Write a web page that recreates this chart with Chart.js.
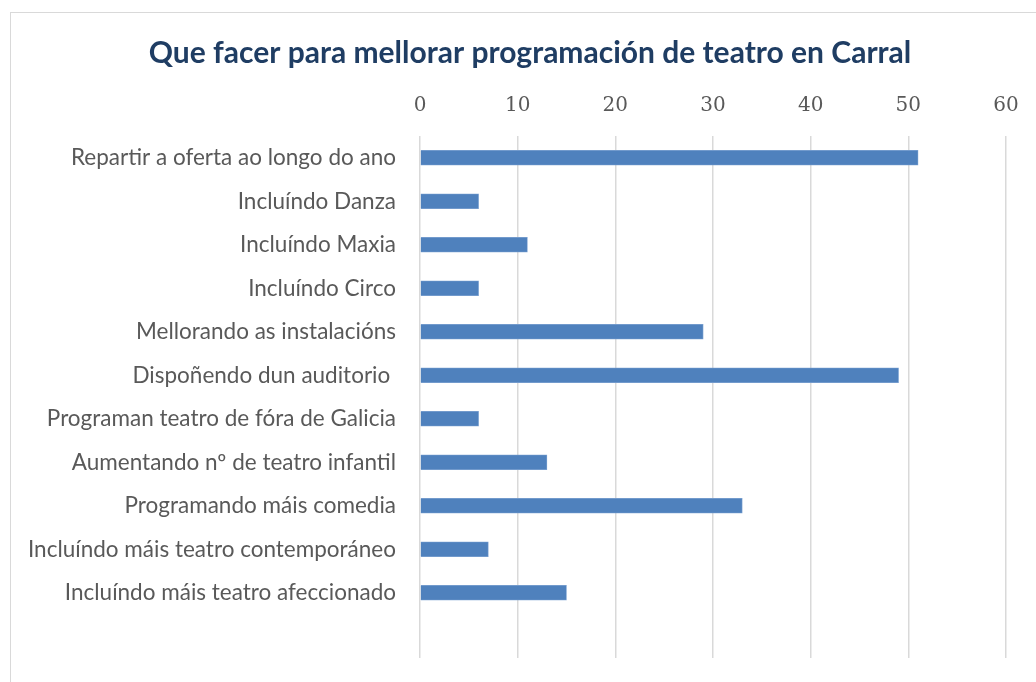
<!DOCTYPE html>
<html>
<head>
<meta charset="utf-8">
<script src="https://cdn.jsdelivr.net/npm/chart.js@4"></script>
<style>
  html, body { margin: 0; padding: 0; background: #fff; overflow: hidden; }
  #wrap { position: absolute; left: 0; top: 0; width: 1036px; height: 682px; }
  #frame { position: absolute; left: 10px; top: 12px; width: 1040px; height: 700px; border: 1px solid #d9d9d9; box-sizing: border-box; }
  canvas { position: absolute; left: 0; top: 0; }
</style>
</head>
<body>
<div id="wrap">
  <div id="frame"></div>
  <canvas id="chart" width="1036" height="682"></canvas>
</div>
<script>
// categories, top to bottom (last row is an empty category in the source sheet)
const categories = [
  'Repartir a oferta ao longo do ano',
  'Incluíndo Danza',
  'Incluíndo Maxia',
  'Incluíndo Circo',
  'Mellorando as instalacións',
  'Dispoñendo dun auditorio ',
  'Programan teatro de fóra de Galicia',
  'Aumentando nº de teatro infantil',
  'Programando máis comedia',
  'Incluíndo máis teatro contemporáneo',
  'Incluíndo máis teatro afeccionado',
  ''
];
const responses = [51, 6, 11, 6, 29, 49, 6, 13, 33, 7, 15, null];
const xTicks = [0, 10, 20, 30, 40, 50, 60];

const TITLE = 'Que facer para mellorar programación de teatro en Carral';
const PLOT_LEFT = 420, PLOT_TOP = 136, PLOT_RIGHT = 1006, PLOT_BOTTOM = 658;

// title sits centred over the whole frame, not over the canvas, so draw it here
const titlePlugin = {
  id: 'frameTitle',
  afterDraw(chart) {
    const ctx = chart.ctx;
    ctx.save();
    ctx.font = 'bold 30px Lato';
    ctx.fillStyle = '#1f3d63';
    ctx.textAlign = 'center';
    ctx.textBaseline = 'middle';
    ctx.fillText(TITLE, 530, 53);
    ctx.restore();
  }
};

const noPad = s => { s.paddingTop = 0; s.paddingBottom = 0; s.paddingLeft = 0; s.paddingRight = 0; };

const canvas = document.getElementById('chart');
new Chart(canvas, {
  type: 'bar',
  data: {
    labels: categories,
    datasets: [{
      label: 'Respostas',
      data: responses,
      backgroundColor: '#4f81bd',
      borderColor: '#7ea3d2',
      borderWidth: 0.8,
      barThickness: 15
    }]
  },
  plugins: [titlePlugin],
  options: {
    indexAxis: 'y',
    responsive: false,
    animation: false,
    layout: { padding: { left: 0, top: 0, right: 1036 - PLOT_RIGHT, bottom: 682 - PLOT_BOTTOM } },
    plugins: {
      legend: { display: false },
      tooltip: { enabled: false },
      title: { display: false }
    },
    scales: {
      x: {
        position: 'top',
        min: 0,
        max: 60,
        afterBuildTicks: s => { s.ticks = xTicks.map(v => ({ value: v })); },
        afterFit: s => { noPad(s); s.height = PLOT_TOP; },
        grid: { color: '#d9d9d9', lineWidth: 1.5, drawTicks: false },
        border: { display: false },
        ticks: {
          color: '#595959',
          font: { family: 'DejaVu Serif', size: 20 },
          padding: 18
        }
      },
      y: {
        afterFit: s => { noPad(s); s.width = PLOT_LEFT; },
        grid: { display: false },
        border: { display: false },
        ticks: {
          color: '#595959',
          font: { family: 'Lato', size: 22.5 },
          padding: 16,
          autoSkip: false
        }
      }
    }
  }
});
</script>
</body>
</html>
